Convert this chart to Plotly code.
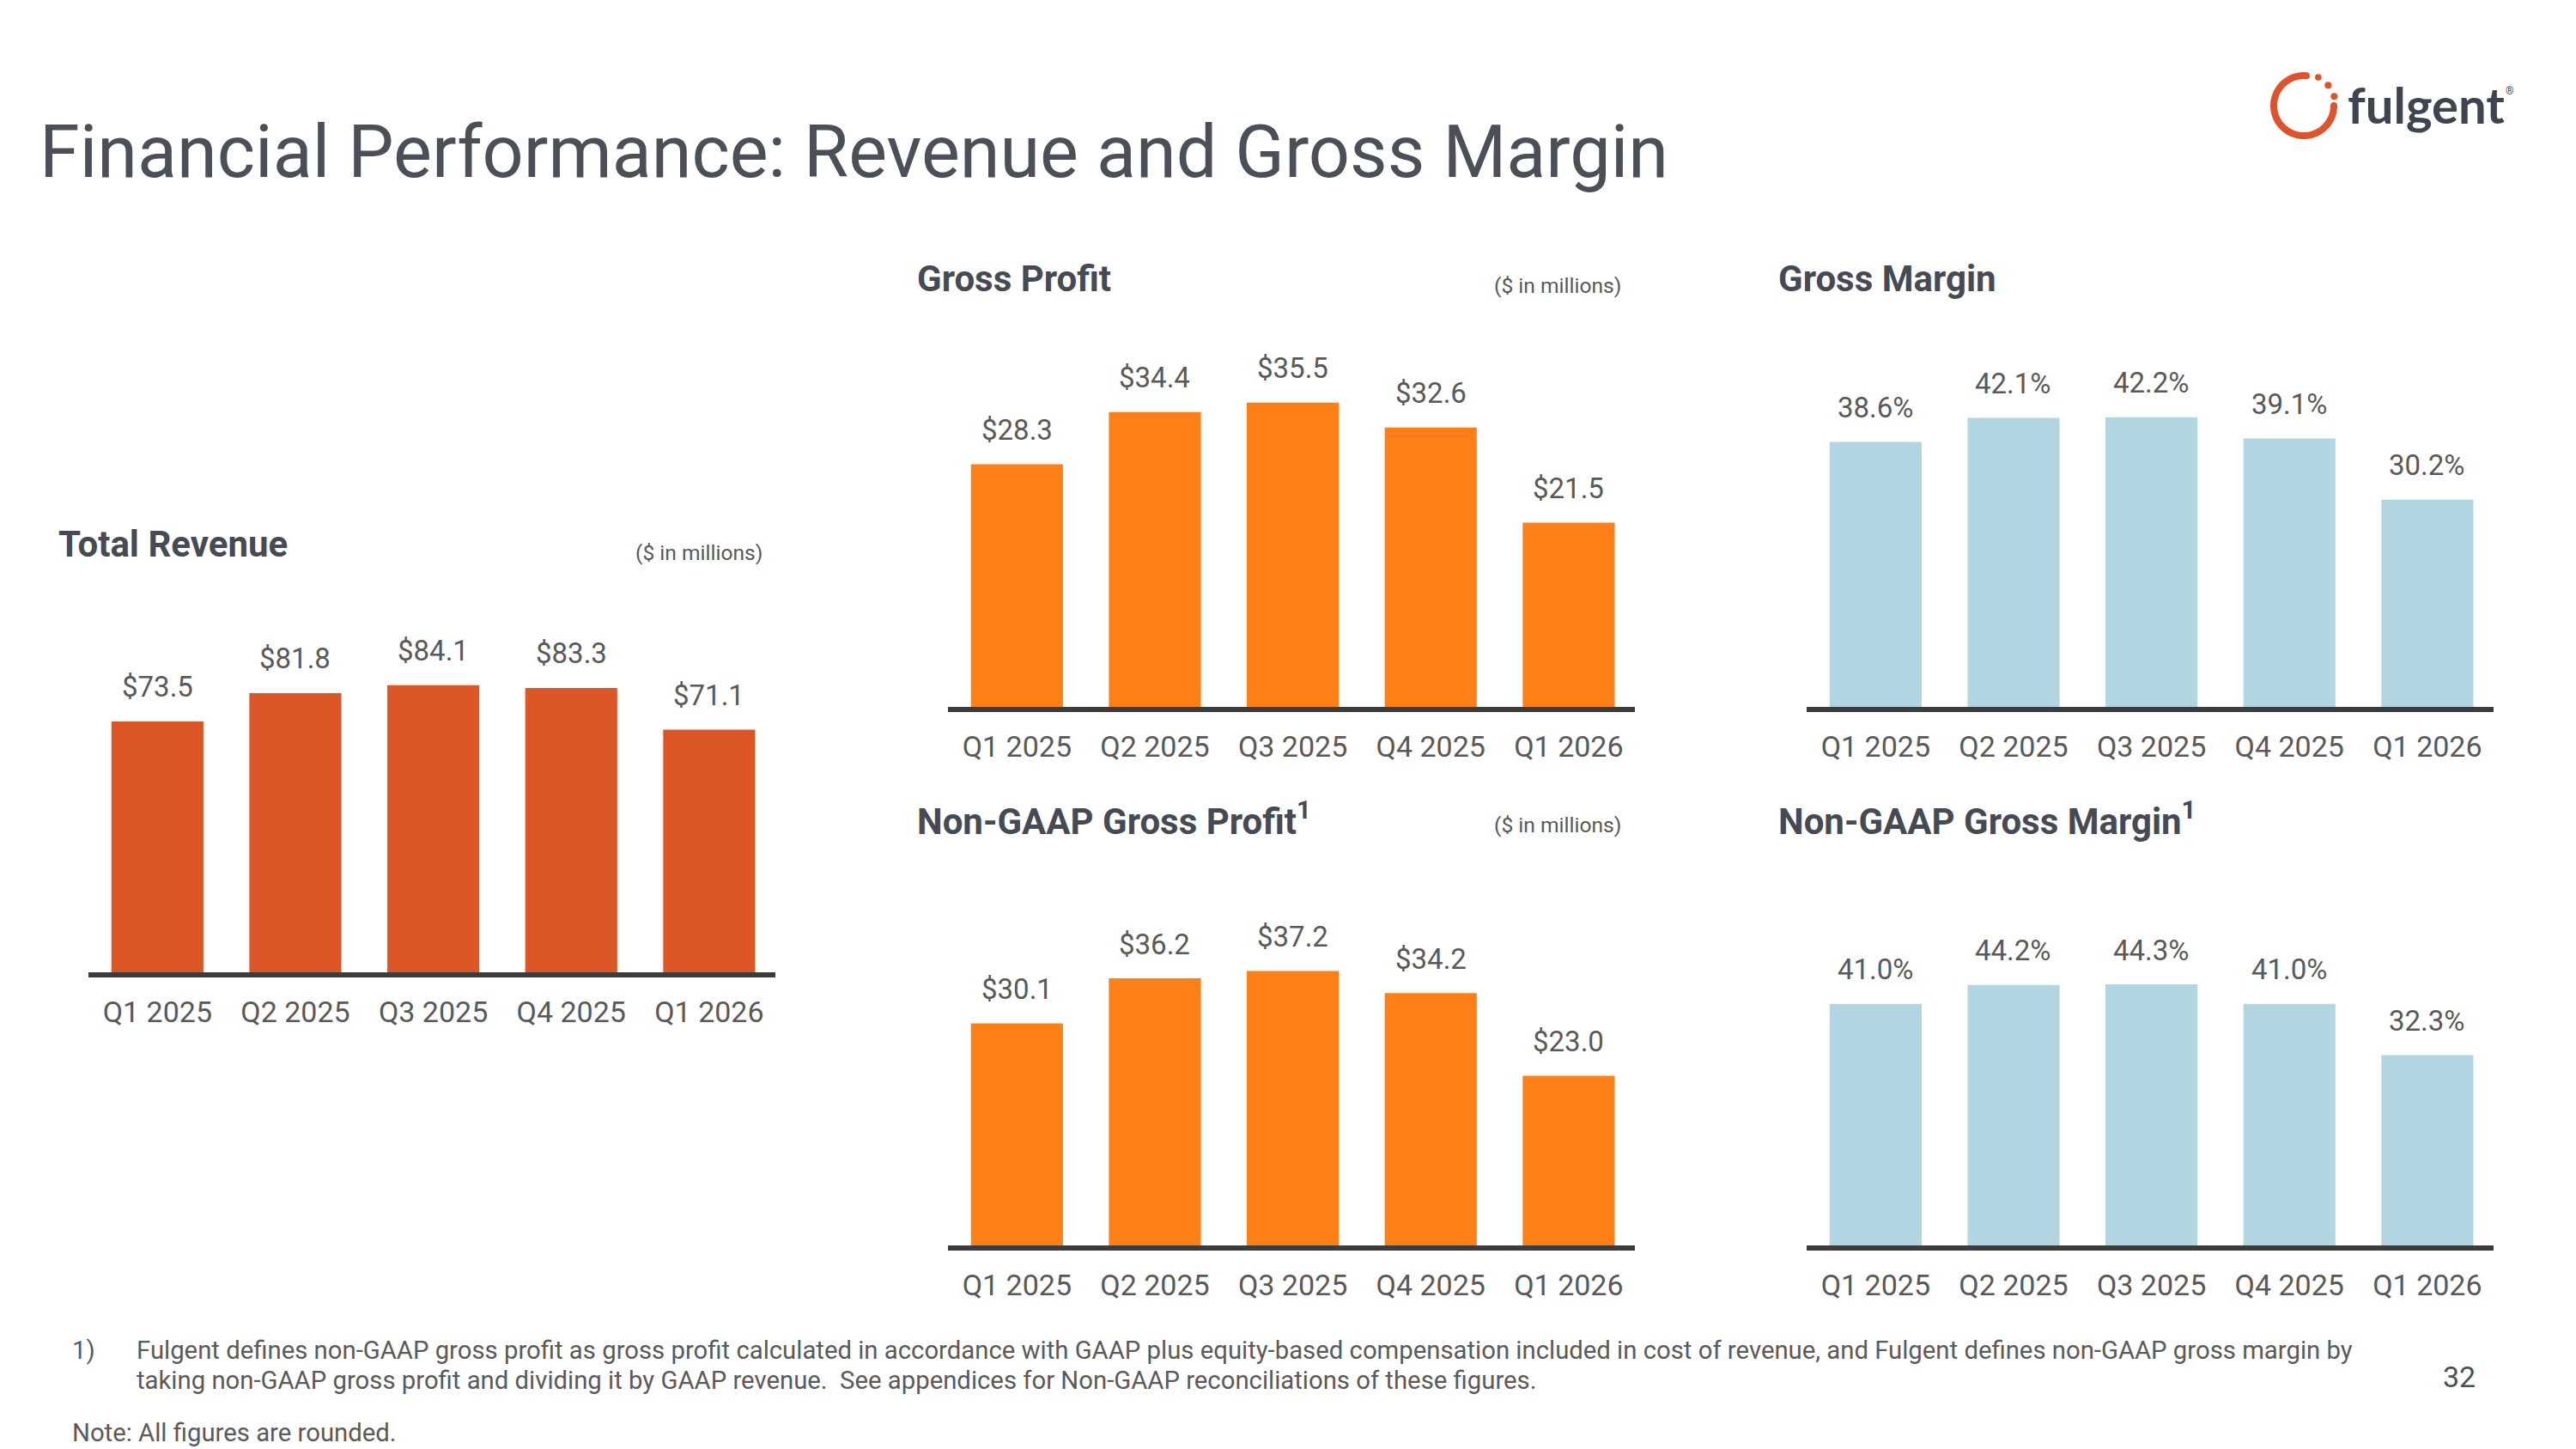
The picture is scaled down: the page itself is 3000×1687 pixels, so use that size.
import numpy as np
import plotly.graph_objects as go

W, H = 3000, 1687

quarters = ["Q1 2025", "Q2 2025", "Q3 2025", "Q4 2025", "Q1 2026"]
total_revenue = [73.5, 81.8, 84.1, 83.3, 71.1]
gross_profit = [28.3, 34.4, 35.5, 32.6, 21.5]
gross_margin = [38.6, 42.1, 42.2, 39.1, 30.2]
nongaap_gross_profit = [30.1, 36.2, 37.2, 34.2, 23.0]
nongaap_gross_margin = [41.0, 44.2, 44.3, 41.0, 32.3]

RED = "#DD5626"
ORANGE = "#FD7F16"
BLUE = "#B2D6E1"
AXIS = "#3C3C3C"
LABEL = "#595959"
TITLE = "#454A54"
FONT = "Roboto"

def px(x):
    return x / W

def py(y):
    return 1 - y / H

# (name, values, fmt, color, x-left px, x-right px, top px, baseline px, ymax)
charts = [
    ("1", total_revenue, "${:.1f}", RED, 103, 903, 700, 1132, 108.7),
    ("2", gross_profit, "${:.1f}", ORANGE, 1104, 1904, 380, 823, 44.39),
    ("3", gross_margin, "{:.1f}%", BLUE, 2104, 2904, 380, 823, 55.44),
    ("4", nongaap_gross_profit, "${:.1f}", ORANGE, 1104, 1904, 1010, 1450, 51.22),
    ("5", nongaap_gross_margin, "{:.1f}%", BLUE, 2104, 2904, 1010, 1450, 64.14),
]

fig = go.Figure()
annotations = []
layout_axes = {}
for name, vals, fmt, color, xl, xr, top, base, ymax in charts:
    xa = "x" if name == "1" else "x" + name
    ya = "y" if name == "1" else "y" + name
    fig.add_trace(go.Bar(x=quarters, y=vals, marker=dict(color=color, line=dict(width=0)),
                         xaxis=xa, yaxis=ya, showlegend=False, hoverinfo="skip"))
    key = "" if name == "1" else name
    layout_axes["xaxis" + key] = dict(
        domain=[px(xl), px(xr)], anchor=ya, type="category", range=[-0.5, 4.48],
        showline=True, linecolor=AXIS, linewidth=6, ticks="", showgrid=False,
        zeroline=False, tickfont=dict(family=FONT, size=34, color=LABEL),
        ticklabelstandoff=11, fixedrange=True)
    layout_axes["yaxis" + key] = dict(
        domain=[py(base), py(top)], anchor=xa, range=[0, ymax], visible=False,
        showgrid=False, zeroline=False, fixedrange=True)
    for q, v in zip(quarters, vals):
        annotations.append(dict(x=q, y=v, xref=xa, yref=ya, text=fmt.format(v),
                                showarrow=False, yanchor="middle", yshift=40,
                                font=dict(family=FONT, size=33, color=LABEL)))

def text(x, y, s, size, color, xanchor="left", yanchor="middle", bold=False, family=FONT, align="left"):
    if bold:
        s = "<b>" + s + "</b>"
    annotations.append(dict(x=px(x), y=py(y), xref="paper", yref="paper", text=s,
                            showarrow=False, xanchor=xanchor, yanchor=yanchor, align=align,
                            font=dict(family=family, size=size, color=color)))

# Main title
text(44, 178, "Financial Performance: Revenue and Gross Margin", 84.6, "#4A4F58")

# Chart titles
text(66, 633, "Total Revenue", 42, TITLE, bold=True)
text(890, 643, "($ in millions)", 24.6, LABEL, xanchor="right")
text(1066, 325, "Gross Profit", 42, TITLE, bold=True)
text(1890, 333, "($ in millions)", 24.6, LABEL, xanchor="right")
text(2069, 325, "Gross Margin", 42, TITLE, bold=True)
text(1066, 953, "Non-GAAP Gross Profit<sup>1</sup>", 42, TITLE, bold=True)
text(1890, 960, "($ in millions)", 24.6, LABEL, xanchor="right")
text(2069, 953, "Non-GAAP Gross Margin<sup>1</sup>", 42, TITLE, bold=True)

# Footnotes
FOOT = "#5A5A5A"
text(82, 1572, "1)", 29.3, FOOT)
text(157, 1572,
     "Fulgent defines non-GAAP gross profit as gross profit calculated in accordance with GAAP plus equity-based compensation included in cost of revenue, and Fulgent defines non-GAAP gross margin by",
     29.3, FOOT)
text(157, 1607,
     "taking non-GAAP gross profit and dividing it by GAAP revenue.  See appendices for Non-GAAP reconciliations of these figures.",
     29.3, FOOT)
text(82, 1668, "Note: All figures are rounded.", 29.3, FOOT)
text(2864, 1603, "32", 34, "#4A4F58", xanchor="center")

# Logo
LOGO_RED = "#E0532A"
cx, cy, r = 2683, 123, 35
th = np.radians(np.linspace(85, 360, 80))
pts = [(px(cx + r * np.cos(t)), py(cy - r * np.sin(t))) for t in th]
path = "M " + " L ".join(f"{a:.6f},{b:.6f}" for a, b in pts)
shapes = [dict(type="path", path=path, xref="paper", yref="paper",
               line=dict(color=LOGO_RED, width=8), layer="above")]
# round caps for arc ends
for t in (th[0], th[-1]):
    ex, ey = cx + r * np.cos(t), cy - r * np.sin(t)
    shapes.append(dict(type="circle", xref="paper", yref="paper",
                       x0=px(ex - 4), x1=px(ex + 4), y0=py(ey + 4), y1=py(ey - 4),
                       fillcolor=LOGO_RED, line=dict(width=0)))
for ang, d in ((63, 7.5), (40, 8), (17, 8)):
    t = np.radians(ang)
    ex, ey = cx + 37 * np.cos(t), cy - 37 * np.sin(t)
    shapes.append(dict(type="circle", xref="paper", yref="paper",
                       x0=px(ex - d / 2), x1=px(ex + d / 2), y0=py(ey + d / 2), y1=py(ey - d / 2),
                       fillcolor=LOGO_RED, line=dict(width=0)))
text(2732, 122, "fulgent", 58, "#3F4550", bold=True, family="Lato")
text(2916, 106, "®", 12, "#434955")

fig.update_layout(
    width=W, height=H, autosize=False,
    margin=dict(l=0, r=0, t=0, b=0, pad=0),
    paper_bgcolor="white", plot_bgcolor="white",
    bargap=0.333, annotations=annotations, shapes=shapes,
    font=dict(family=FONT),
    **layout_axes,
)

fig.write_html("out.html", config={"displayModeBar": False})
